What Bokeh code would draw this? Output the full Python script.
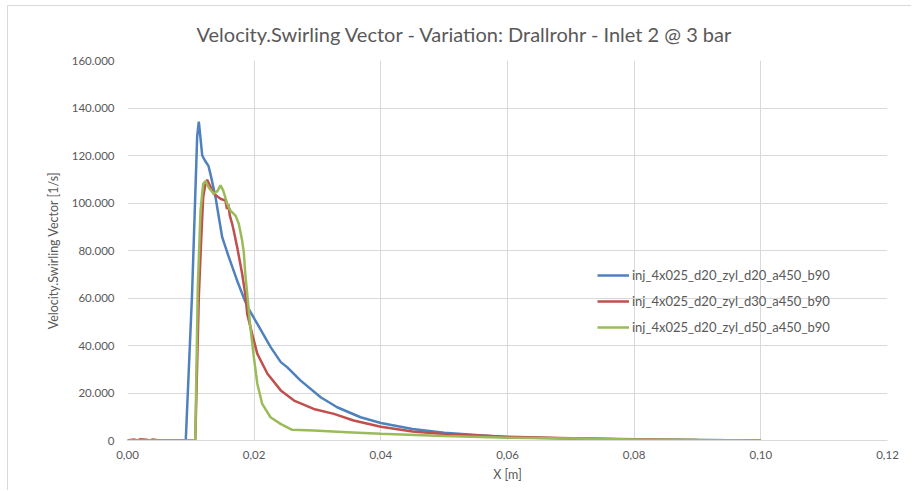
from bokeh.plotting import figure
from bokeh.models import Range1d, FixedTicker, Legend, LegendItem
from bokeh.embed import file_html
from bokeh.resources import INLINE

# ---------------- data ----------------
title_text = "Velocity.Swirling Vector - Variation: Drallrohr - Inlet 2 @ 3 bar"
x_label = "X [m]"
y_label = "Velocity.Swirling Vector [1/s]"

x_ticks = [0.0, 0.02, 0.04, 0.06, 0.08, 0.10, 0.12]
x_tick_labels = ["0,00", "0,02", "0,04", "0,06", "0,08", "0,10", "0,12"]
y_ticks = [0, 20000, 40000, 60000, 80000, 100000, 120000, 140000, 160000]
y_tick_labels = ["0", "20.000", "40.000", "60.000", "80.000", "100.000", "120.000", "140.000", "160.000"]

names = ["inj_4x025_d20_zyl_d20_a450_b90",
         "inj_4x025_d20_zyl_d30_a450_b90",
         "inj_4x025_d20_zyl_d50_a450_b90"]
colors = ["#4F81BD", "#C0504D", "#9BBB59"]

blue_x = [0.0, 0.005, 0.0090, 0.0092, 0.0102, 0.0110, 0.01126, 0.0115, 0.0118, 0.0122, 0.0128,
          0.0132, 0.0139, 0.01495, 0.0160, 0.0173, 0.0184, 0.0190, 0.0205, 0.0226, 0.0242,
          0.0252, 0.0273, 0.0305, 0.0331, 0.0368, 0.0400, 0.0450, 0.0500, 0.0600, 0.0700,
          0.0800, 0.0900, 0.1000]
blue_y = [0, 0, 0, 0, 62000, 128000, 134300, 128000, 120000, 118000, 115500,
          111000, 102400, 85600, 77200, 67400, 59800, 56000, 49100, 39300, 33000,
          30900, 25300, 18200, 14000, 9800, 7400, 4800, 3300, 1400, 800,
          400, 200, 0]

red_x = [0.0, 0.001, 0.0015, 0.002, 0.003, 0.0035, 0.004, 0.005, 0.0060, 0.0105, 0.0107,
         0.01126, 0.01163, 0.01195, 0.0123, 0.01258, 0.0130, 0.01363, 0.01468, 0.01547,
         0.0157, 0.0159, 0.01616, 0.01653, 0.0168, 0.01732, 0.0181, 0.01863, 0.0189,
         0.01968, 0.0205, 0.0221, 0.0242, 0.0263, 0.0294, 0.0326, 0.0357, 0.0400,
         0.0450, 0.0500, 0.0600, 0.0700, 0.0800, 0.0900, 0.1000]
red_y = [0, 400, 0, 500, 300, 0, 400, 0, 0, 0, 0,
         60300, 84200, 102400, 108000, 109800, 107500, 103900, 101800, 101000,
         97500, 99500, 94700, 91200, 88000, 81400, 70200, 61000, 53300,
         44900, 36500, 28100, 21100, 16800, 13300, 11200, 8400, 5800,
         3800, 2700, 1600, 900, 500, 200, 0]

green_x = [0.0, 0.0105, 0.0107, 0.0111, 0.01153, 0.01195, 0.01232, 0.01284, 0.01363, 0.0142,
           0.01468, 0.0151, 0.01574, 0.01626, 0.01705, 0.01758, 0.0181, 0.01837, 0.0186,
           0.0189, 0.0194, 0.01995, 0.0205, 0.02127, 0.02258, 0.02416, 0.0260, 0.0294,
           0.0347, 0.0400, 0.0500, 0.0600, 0.0700, 0.0800, 0.0900, 0.1000]
green_y = [0, 0, 0, 64500, 96800, 108100, 109200, 106400, 103900, 105000,
           107400, 105300, 99700, 96800, 94700, 91200, 84200, 79000, 70000,
           62000, 47700, 35100, 23900, 15400, 9800, 7000, 4500, 4200,
           3500, 2800, 1900, 1200, 800, 400, 200, 0]

series_x = [blue_x, red_x, green_x]
series_y = [blue_y, red_y, green_y]

# ---------------- figure ----------------
FONT = "Lato"
GRAY_TEXT = "#595959"
GRID = "#d9d9d9"

p = figure(width=904, height=485, output_backend="svg", toolbar_location=None,
           x_range=Range1d(0, 0.12), y_range=Range1d(0, 160000),
           min_border_left=119, min_border_right=25, min_border_top=54, min_border_bottom=51,
           styles={"margin-left": "7px", "margin-top": "5px",
                   "border-left": "1px solid #d9d9d9", "border-top": "1px solid #d9d9d9"})

p.title.text = title_text
p.title.text_font = FONT
p.title.text_font_size = "20px"
p.title.text_font_style = "normal"
p.title.text_color = GRAY_TEXT
p.title.align = "left"
p.title.vertical_align = "middle"
p.title.offset = 69
p.title.standoff = 27

p.outline_line_color = None
p.background_fill_color = "white"
p.border_fill_color = "white"

p.xaxis.ticker = FixedTicker(ticks=x_ticks)
p.yaxis.ticker = FixedTicker(ticks=y_ticks)
p.xaxis.major_label_overrides = {t: l for t, l in zip(x_ticks, x_tick_labels)}
p.yaxis.major_label_overrides = {t: l for t, l in zip(y_ticks, y_tick_labels)}

for ax in (p.xaxis, p.yaxis):
    ax.major_tick_line_color = None
    ax.minor_tick_line_color = None
    ax.major_tick_out = 0
    ax.major_tick_in = 0
    ax.major_label_text_font = FONT
    ax.major_label_text_font_size = "11.5px"
    ax.major_label_text_color = GRAY_TEXT
    ax.axis_label_text_font = FONT
    ax.axis_label_text_font_size = "12.5px"
    ax.axis_label_text_font_style = "normal"
    ax.axis_label_text_color = GRAY_TEXT

p.xaxis.axis_label = x_label
p.yaxis.axis_label = y_label
p.xaxis.axis_line_color = GRID
p.yaxis.axis_line_color = None
p.xaxis.major_label_standoff = 10
p.yaxis.major_label_standoff = 13
p.xaxis.axis_label_standoff = 5
p.yaxis.axis_label_standoff = 8

p.xgrid.grid_line_color = GRID
p.ygrid.grid_line_color = GRID
p.xgrid.ticker = FixedTicker(ticks=x_ticks)
p.ygrid.ticker = FixedTicker(ticks=y_ticks)

items = []
for xs, ys, c, n in zip(series_x, series_y, colors, names):
    r = p.line(xs, ys, line_color=c, line_width=2.5)
    items.append(LegendItem(label=n, renderers=[r]))

legend = Legend(items=items, location=(470, 103), orientation="vertical",
                glyph_width=32, glyph_height=20, label_height=20, spacing=6,
                label_standoff=3, padding=0, margin=0,
                border_line_color=None, background_fill_alpha=0,
                label_text_font=FONT, label_text_font_size="13px",
                label_text_color=GRAY_TEXT)
p.add_layout(legend, "center")

open("out.html", "w").write(file_html(p, INLINE))
